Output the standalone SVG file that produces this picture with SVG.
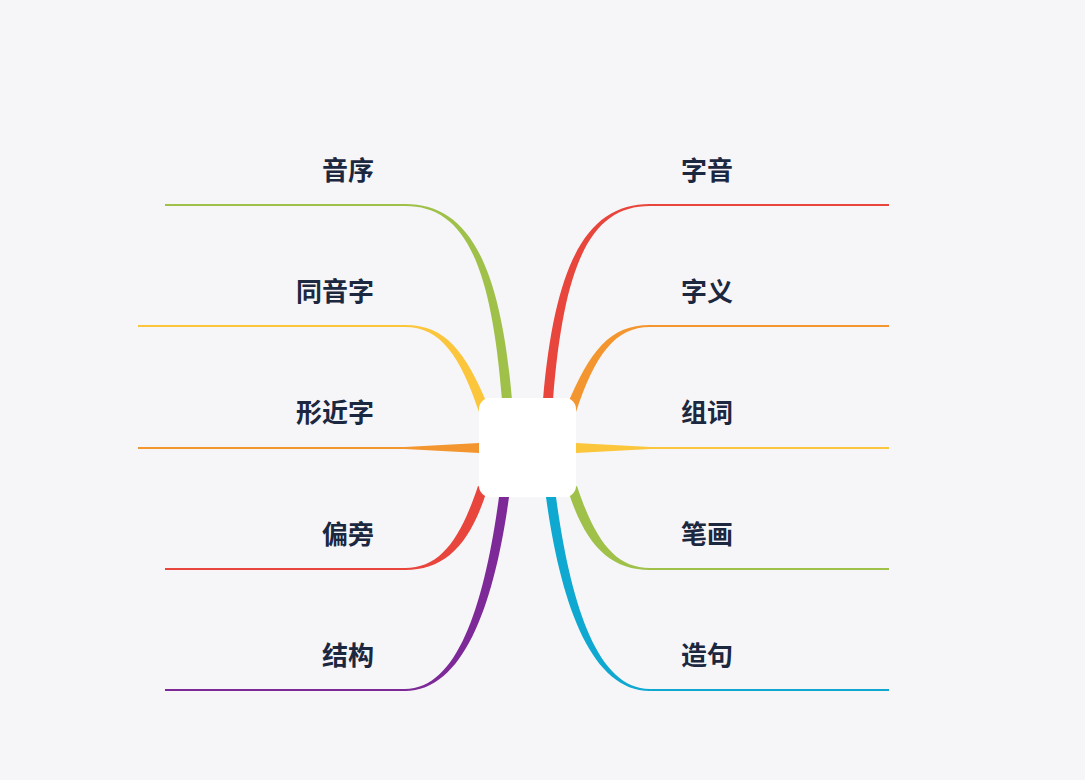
<svg xmlns="http://www.w3.org/2000/svg" width="1085" height="780" viewBox="0 0 1085 780">
<style>
text{font-family:"Noto Sans CJK SC","Noto Sans",sans-serif;font-weight:bold;font-size:26px;fill:#1c2740}
.l{stroke-width:2.2;fill:none}
.r{fill:#e8453c}.o{fill:#f4962f}.y{fill:#fbc63b}.g{fill:#9fc14a}.b{fill:#0ea8d0}.p{fill:#7d2a98}
</style>
<rect width="1085" height="780" fill="#f6f6f8"/>
<g id="connectors">
<g id="right">
<path class="r" d="M543,400 C555,260 588,204 650,204 L650,206 C592,206 564,260 553,400 Z"/><line class="l" stroke="#e8453c" x1="648" y1="205" x2="889" y2="205"/>
<path class="o" d="M566,408 C590,350 610,325 650,325 L650,327 C615,327 595,355 576,412 Z"/><line class="l" stroke="#f4962f" x1="648" y1="326" x2="889" y2="326"/>
<path class="y" d="M576,443 L650,447 L650,449 L576,453 Z"/><line class="l" stroke="#fbc63b" x1="648" y1="448" x2="889" y2="448"/>
<path class="g" d="M568,490 C585,545 610,570 650,570 L650,568 C615,568 595,540 577,486 Z"/><line class="l" stroke="#9fc14a" x1="648" y1="569" x2="889" y2="569"/>
<path class="b" d="M546,497 C560,600 590,691 650,691 L650,689 C596,689 570,600 556,497 Z"/><line class="l" stroke="#0ea8d0" x1="648" y1="690" x2="889" y2="690"/>
</g>
<g id="left" transform="matrix(-1,0,0,1,1055,0)">
<path class="g" d="M543,400 C555,260 588,204 650,204 L650,206 C592,206 564,260 553,400 Z"/><line class="l" stroke="#9fc14a" x1="648" y1="205" x2="890" y2="205"/>
<path class="y" d="M566,408 C590,350 610,325 650,325 L650,327 C615,327 595,355 576,412 Z"/><line class="l" stroke="#fbc63b" x1="648" y1="326" x2="917" y2="326"/>
<path class="o" d="M576,443 L650,447 L650,449 L576,453 Z"/><line class="l" stroke="#f4962f" x1="648" y1="448" x2="917" y2="448"/>
<path class="r" d="M568,490 C585,545 610,570 650,570 L650,568 C615,568 595,540 577,486 Z"/><line class="l" stroke="#e8453c" x1="648" y1="569" x2="890" y2="569"/>
<path class="p" d="M546,497 C560,600 590,691 650,691 L650,689 C596,689 570,600 556,497 Z"/><line class="l" stroke="#7d2a98" x1="648" y1="690" x2="890" y2="690"/>
</g>
</g>
<g id="center"><rect x="479" y="398" width="97" height="99" rx="11" fill="#fff"/></g>
<g id="n1"><text x="681" y="180">字音</text></g>
<g id="n2"><text x="681" y="301">字义</text></g>
<g id="n3"><text x="681" y="422">组词</text></g>
<g id="n4"><text x="681" y="544">笔画</text></g>
<g id="n5"><text x="681" y="665">造句</text></g>
<g id="n6"><text x="374" y="180" text-anchor="end">音序</text></g>
<g id="n7"><text x="374" y="301" text-anchor="end">同音字</text></g>
<g id="n8"><text x="374" y="422" text-anchor="end">形近字</text></g>
<g id="n9"><text x="374" y="544" text-anchor="end">偏旁</text></g>
<g id="n10"><text x="374" y="665" text-anchor="end">结构</text></g>
</svg>
